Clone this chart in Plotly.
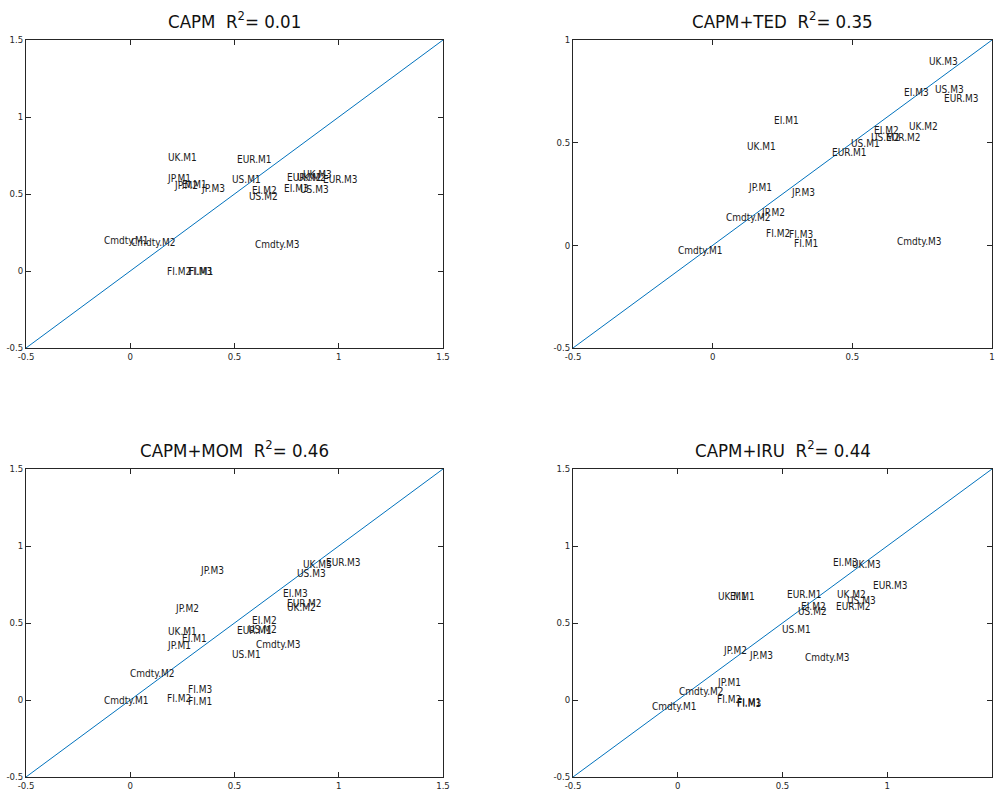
import plotly.graph_objects as go

# Asset labels (same order in every panel)
labels = [
    "UK.M1", "UK.M2", "UK.M3",
    "US.M1", "US.M2", "US.M3",
    "JP.M1", "JP.M2", "JP.M3",
    "EUR.M1", "EUR.M2", "EUR.M3",
    "EI.M1", "EI.M2", "EI.M3",
    "FI.M1", "FI.M2", "FI.M3",
    "Cmdty.M1", "Cmdty.M2", "Cmdty.M3",
]

# Predicted (x) vs realised (y) average returns per model
capm_x = [0.176, 0.796, 0.823, 0.483, 0.563, 0.807, 0.173, 0.205, 0.333,
          0.508, 0.746, 0.922, 0.243, 0.579, 0.732, 0.275, 0.173, 0.272,
          -0.133, -0.003, 0.595]
capm_y = [0.736, 0.604, 0.628, 0.591, 0.483, 0.532, 0.602, 0.558, 0.537,
          0.725, 0.606, 0.591, 0.563, 0.521, 0.537, -0.003, -0.004, 0.0,
          0.197, 0.184, 0.169]

ted_x = [0.118, 0.700, 0.772, 0.491, 0.565, 0.792, 0.123, 0.168, 0.276,
         0.422, 0.616, 0.823, 0.216, 0.575, 0.680, 0.286, 0.186, 0.268,
         -0.127, 0.043, 0.655]
ted_y = [0.480, 0.577, 0.894, 0.496, 0.523, 0.760, 0.284, 0.158, 0.255,
         0.450, 0.523, 0.716, 0.610, 0.561, 0.745, 0.011, 0.057, 0.052,
         -0.024, 0.135, 0.021]

mom_x = [0.176, 0.748, 0.823, 0.484, 0.560, 0.796, 0.173, 0.208, 0.328,
         0.508, 0.748, 0.932, 0.243, 0.579, 0.730, 0.272, 0.173, 0.272,
         -0.133, -0.005, 0.596]
mom_y = [0.448, 0.600, 0.883, 0.297, 0.461, 0.823, 0.357, 0.591, 0.844,
         0.450, 0.628, 0.894, 0.400, 0.515, 0.693, -0.011, 0.011, 0.069,
         -0.004, 0.173, 0.362]

iru_x = [0.185, 0.753, 0.829, 0.492, 0.567, 0.805, 0.181, 0.213, 0.336,
         0.516, 0.749, 0.928, 0.245, 0.582, 0.734, 0.279, 0.181, 0.277,
         -0.126, 0.001, 0.601]
iru_y = [0.671, 0.682, 0.883, 0.461, 0.573, 0.643, 0.113, 0.320, 0.292,
         0.688, 0.610, 0.742, 0.671, 0.606, 0.892, -0.019, 0.004, -0.021,
         -0.043, 0.054, 0.275]

model_names = ["CAPM", "CAPM+TED", "CAPM+MOM", "CAPM+IRU"]
r_squared = ["0.01", "0.35", "0.46", "0.44"]

# Axis limits and ticks per panel
axis_limits = [(-0.5, 1.5), (-0.5, 1.0), (-0.5, 1.5), (-0.5, 1.5)]
tick_values_wide = [-0.5, 0, 0.5, 1, 1.5]
tick_text_wide = ["-0.5", "0", "0.5", "1", "1.5"]
tick_values_narrow = [-0.5, 0, 0.5, 1]
tick_text_narrow = ["-0.5", "0", "0.5", "1"]

panels = [
    (capm_x, capm_y),
    (ted_x, ted_y),
    (mom_x, mom_y),
    (iru_x, iru_y),
]

W, H = 996, 798
# Panel boxes in pixels: (left, right, top, bottom)
boxes = [(26, 443, 40, 348), (573, 992, 40, 348),
         (26, 443, 469, 777), (573, 992, 469, 777)]

FONT = "DejaVu Sans Condensed, Liberation Sans Narrow, Liberation Sans, Arial, sans-serif"
INK = "#262626"
LINE_BLUE = "#0072BD"

fig = go.Figure()
layout = dict(
    width=W, height=H,
    margin=dict(l=0, r=0, t=0, b=0, autoexpand=False),
    paper_bgcolor="white", plot_bgcolor="white",
    showlegend=False,
    font=dict(family=FONT, color=INK),
)
annotations = []

for i, ((xs, ys), (lo, hi), box) in enumerate(zip(panels, axis_limits, boxes)):
    n = "" if i == 0 else str(i + 1)
    xa, ya = "x" + n, "y" + n
    left, right, top, bottom = box
    if hi >= 1.5:
        tv, tt = tick_values_wide, tick_text_wide
    else:
        tv, tt = tick_values_narrow, tick_text_narrow
    axis_common = dict(
        range=[lo, hi], tickmode="array", tickvals=tv, ticktext=tt,
        ticks="inside", ticklen=5, tickwidth=1, tickcolor=INK,
        showline=True, linecolor=INK, linewidth=1, mirror="ticks",
        showgrid=False, zeroline=False, automargin=False,
        tickfont=dict(family=FONT, size=9.5, color=INK),
    )
    layout["xaxis" + n] = dict(
        axis_common, domain=[left / W, right / W], anchor=ya,
    )
    layout["yaxis" + n] = dict(
        axis_common, domain=[1 - bottom / H, 1 - top / H], anchor=xa,
    )

    # 45-degree reference line
    fig.add_trace(go.Scatter(
        x=[lo, hi], y=[lo, hi], mode="lines",
        line=dict(color=LINE_BLUE, width=1),
        xaxis=xa, yaxis=ya, hoverinfo="skip",
    ))

    # Asset labels placed at their (x, y) values
    for lab, xv, yv in zip(labels, xs, ys):
        annotations.append(dict(
            x=xv, y=yv, xref=xa, yref=ya, text=lab, showarrow=False,
            xanchor="left", yanchor="middle", borderpad=0,
            font=dict(family=FONT, size=10, color="#1a1a1a"),
        ))

    # Panel title
    annotations.append(dict(
        x=(left + right) / 2 / W, y=1 - (top - 20) / H,
        xref="paper", yref="paper",
        text=f"{model_names[i]}  R<sup>2</sup>= {r_squared[i]}",
        showarrow=False, xanchor="center", yanchor="middle",
        font=dict(family=FONT, size=18.5, color="#111111"),
    ))

layout["annotations"] = annotations
fig.update_layout(**layout)
fig.write_html("out.html")
